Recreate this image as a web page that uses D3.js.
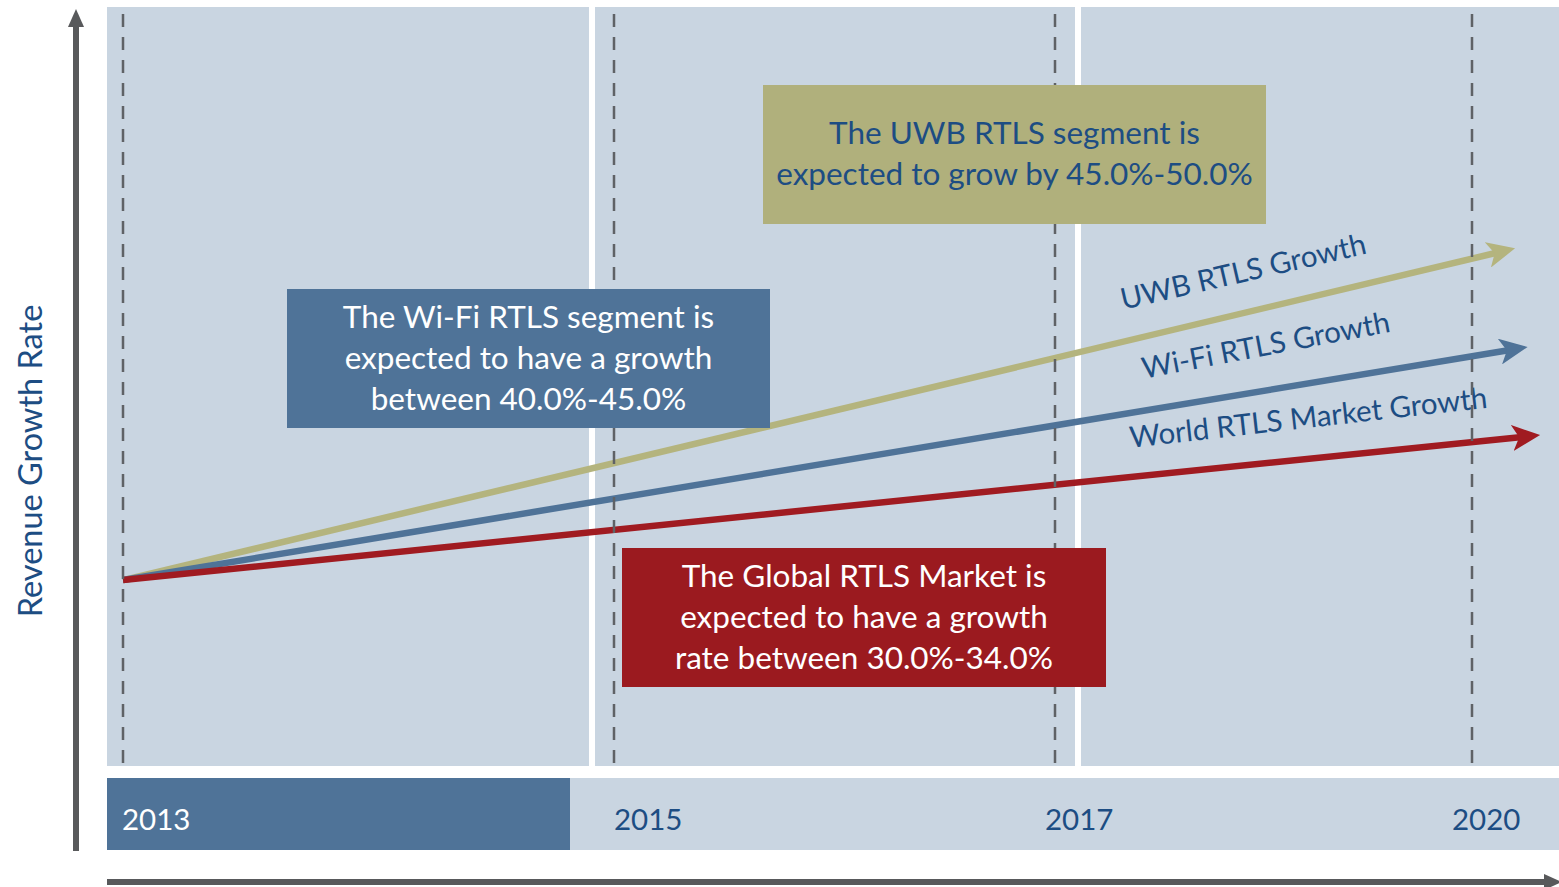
<!DOCTYPE html>
<html><head><meta charset="utf-8">
<script src="https://cdn.jsdelivr.net/npm/d3@7"></script>
<style>html,body{margin:0;padding:0;background:#fff;overflow:hidden}</style>
</head><body><svg id="c" width="1559" height="887"></svg>
<script>
// ---- data ----
const years = [2013, 2015, 2017, 2020];
const yearLabels = ["2013", "2015", "2017", "2020"];
const seriesNames = ["UWB RTLS Growth", "Wi-Fi RTLS Growth", "World RTLS Market Growth"];
const startYear = 2013;
const startValues = [24.5, 24.5, 24.5];
const endYears = [2020.31, 2020.40, 2020.49];
const endValues = [68.2, 55.2, 43.6];
const boxTexts = [
  ["The UWB RTLS segment is", "expected to grow by 45.0%-50.0%"],
  ["The Wi-Fi RTLS segment is", "expected to have a growth", "between 40.0%-45.0%"],
  ["The Global RTLS Market is", "expected to have a growth", "rate between 30.0%-34.0%"]
];
const yAxisTitle = "Revenue Growth Rate";

// ---- layout ----
const svg = d3.select("#c");
const FONT = "Lato, 'Open Sans', sans-serif";
const dark = "#1d4d83";
const colors = ["#b4b47e", "#4f7398", "#a01b21"];
const boxFill = ["#b0b07c", "#4f7398", "#9b1a1f"];
const boxTextFill = [dark, "#ffffff", "#ffffff"];
const panelFill = "#c9d5e1";

const x = d3.scaleLinear().domain(years).range([123, 614, 1055, 1472]);
const y = d3.scaleLinear().domain([0, 100]).range([766, 7]);

// panels
const panels = [[107, 589], [595, 1075], [1081, 1559]];
svg.selectAll("rect.panel").data(panels).join("rect")
  .attr("x", d => d[0]).attr("y", 7).attr("width", d => d[1] - d[0]).attr("height", 759)
  .attr("fill", panelFill);

// bottom band
svg.append("rect").attr("x", 107).attr("y", 778).attr("width", 1452).attr("height", 72).attr("fill", panelFill);
svg.append("rect").attr("x", 107).attr("y", 778).attr("width", 463).attr("height", 72).attr("fill", "#4f7398");

// year labels
svg.selectAll("text.year").data(years).join("text")
  .attr("x", (d, i) => x(d) + [-1, 0, -10, -20][i])
  .attr("y", 830)
  .attr("font-family", FONT).attr("font-size", 29.5)
  .attr("fill", (d, i) => i === 0 ? "#fff" : dark)
  .text((d, i) => yearLabels[i]);

// markers
const defs = svg.append("defs");
colors.forEach((c, i) => {
  defs.append("marker").attr("id", "ah" + i)
    .attr("viewBox", "0 0 28 26").attr("refX", 28).attr("refY", 13)
    .attr("markerUnits", "userSpaceOnUse").attr("markerWidth", 28).attr("markerHeight", 26)
    .attr("orient", "auto")
    .append("path").attr("d", "M0,0 L28,13 L0,26 L7,13 Z").attr("fill", c);
});

// growth lines
seriesNames.forEach((name, i) => {
  const x0 = x(startYear), y0 = y(startValues[i]);
  const x1 = x(endYears[i]), y1 = y(endValues[i]);
  const len = Math.hypot(x1 - x0, y1 - y0);
  const ux = (x1 - x0) / len, uy = (y1 - y0) / len;
  svg.append("line")
    .attr("x1", x0).attr("y1", y0)
    .attr("x2", x1 - ux * 18).attr("y2", y1 - uy * 18)
    .attr("stroke", colors[i]).attr("stroke-width", 6.5);
  svg.append("path")
    .attr("d", `M${x1 - ux * 0.01},${y1 - uy * 0.01} L${x1},${y1}`)
    .attr("stroke", "none").attr("fill", "none")
    .attr("marker-end", `url(#ah${i})`);
});

// line labels
const labelPos = [
  {year: 2018.37, dy: -31, rot: -13.0},
  {year: 2018.53, dy: -35, rot: -10.8},
  {year: 2018.83, dy: -31, rot: -6.4}
];
seriesNames.forEach((name, i) => {
  const lx = x(labelPos[i].year);
  const t = (lx - x(startYear)) / (x(endYears[i]) - x(startYear));
  const ly = y(startValues[i] + t * (endValues[i] - startValues[i])) + labelPos[i].dy;
  svg.append("text")
    .attr("transform", `translate(${lx},${ly}) rotate(${labelPos[i].rot})`)
    .attr("text-anchor", "middle")
    .attr("font-family", FONT).attr("font-size", 29.5)
    .attr("fill", dark).text(name);
});

// dashed year lines
svg.selectAll("line.dash").data(years).join("line")
  .attr("x1", d => x(d)).attr("x2", d => x(d))
  .attr("y1", 14).attr("y2", 766)
  .attr("stroke", "#5f6266").attr("stroke-width", 2.5)
  .attr("stroke-dasharray", "13,10");

// annotation boxes
const boxes = [
  {x: 763, y: 85, w: 503, h: 139},
  {x: 287, y: 289, w: 483, h: 139},
  {x: 622, y: 548, w: 484, h: 139}
];
boxes.forEach((b, i) => {
  svg.append("rect").attr("x", b.x).attr("y", b.y).attr("width", b.w).attr("height", b.h)
    .attr("fill", boxFill[i]);
  const lines = boxTexts[i];
  const lh = 41;
  const top = b.y + b.h / 2 - (lines.length - 1) * lh / 2 + 10;
  lines.forEach((s, j) => {
    svg.append("text").attr("x", b.x + b.w / 2).attr("y", top + j * lh)
      .attr("text-anchor", "middle").attr("font-family", FONT).attr("font-size", 31.5)
      .attr("fill", boxTextFill[i]).text(s);
  });
});

// axes arrows
const axisColor = "#58595b";
svg.append("line").attr("x1", 76).attr("y1", 851).attr("x2", 76).attr("y2", 24)
  .attr("stroke", axisColor).attr("stroke-width", 6);
svg.append("path").attr("d", "M76,9 L84,27 L68,27 Z").attr("fill", axisColor);
svg.append("line").attr("x1", 107).attr("y1", 882).attr("x2", 1545).attr("y2", 882)
  .attr("stroke", axisColor).attr("stroke-width", 6);
svg.append("path").attr("d", "M1562,882 L1544,874 L1544,890 Z").attr("fill", axisColor);

// y axis title
svg.append("text")
  .attr("transform", "translate(42,461) rotate(-90)")
  .attr("text-anchor", "middle").attr("font-family", FONT).attr("font-size", 32.5)
  .attr("fill", dark).text(yAxisTitle);
</script></body></html>
